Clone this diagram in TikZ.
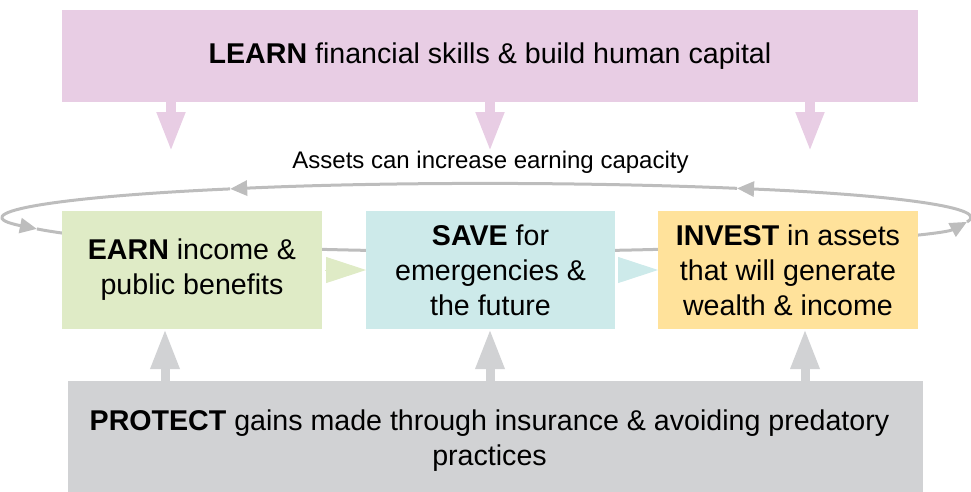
\documentclass[tikz,border=0pt]{standalone}
\usepackage{fontspec}
\setmainfont{Liberation Sans}
\usetikzlibrary{arrows.meta}

\definecolor{learnpink}{HTML}{E8CDE4}
\definecolor{earngreen}{HTML}{DFEBC6}
\definecolor{savecyan}{HTML}{CDEAEA}
\definecolor{investyellow}{HTML}{FFE29B}
\definecolor{protectgray}{HTML}{D1D2D4}
\definecolor{loopgray}{HTML}{BDBDBD}

\begin{document}
\begin{tikzpicture}[x=1pt,y=-1pt,
                    box/.style={inner sep=0pt,outer sep=0pt,align=center,font=\fontsize{28.6}{35}\selectfont},
                    learnbox/.style={box,fill=learnpink,minimum width=856,minimum height=92},
                    stepbox/.style={box,minimum width=260,minimum height=118},
                    protectbox/.style={box,fill=protectgray,minimum width=855,minimum height=120},
                    learnarrow/.style={draw=learnpink,line width=10pt,-{Triangle[length=40pt,width=26pt]}},
                    protectarrow/.style={draw=protectgray,line width=9pt,-{Triangle[length=40pt,width=27pt]}},
                    flowarrow/.style={line width=1pt,shorten <=3pt,-{Triangle[length=40pt,width=26pt]}},
                    loopline/.style={draw=loopgray,line width=3pt,-{Triangle[length=17pt,width=15pt]}}
                ]
    \useasboundingbox (0,0) rectangle (971,491);
    \clip (0,0) rectangle (971,491);

    % loop behind the boxes
    \coordinate (loopc) at (490,217.5);
    \foreach \a/\b in {-122.7/-199.6,-199.6/-352.6,7.4/-59.1,-59.1/-122.7}
        {
        \draw[loopline] ([shift={(\a:481 and 34)}]loopc) arc[start angle=\a,end angle=\b,x radius=481,y radius=34];
        }
    \node[font=\fontsize{24}{28}\selectfont] (assets) at (490.5,162) {Assets can increase earning capacity};

    \node[learnbox] (learn) at (490,56) {\textbf{LEARN} financial skills \& build human capital};
    \node[stepbox,fill=earngreen] (earn) at (192,270) {\textbf{EARN} income \&\\public benefits};
    \node[stepbox,fill=savecyan,minimum width=249] (save) at (490.5,270) {\textbf{SAVE} for\\emergencies \&\\the future};
    \node[stepbox,fill=investyellow] (invest) at (788,270) {\textbf{INVEST} in assets\\that will generate\\wealth \& income};
    % box runs past the lower edge, text sits a little left of its centre
    \node[protectbox] (protect) at (495.5,441) {\textbf{PROTECT} gains made through insurance \& avoiding predatory\hspace*{12pt}\\practices\hspace*{12pt}};

    % arrows between the steps
    \draw[flowarrow,draw=earngreen] (earn.east) -- (save.west);
    \draw[flowarrow,draw=savecyan] (save.east) -- (invest.west);

    \foreach \x in {171,490,810}
        {
        \coordinate (tip\x) at (\x,152);
        \draw[learnarrow] (learn.south -| tip\x) -- (tip\x);
        }
    \foreach \x/\n in {165/earn,490/save,805/invest}
        {
        \draw[protectarrow] (protect.north -| \x,0) -- (\n.south -| \x,0);
        }
\end{tikzpicture}
\end{document}
